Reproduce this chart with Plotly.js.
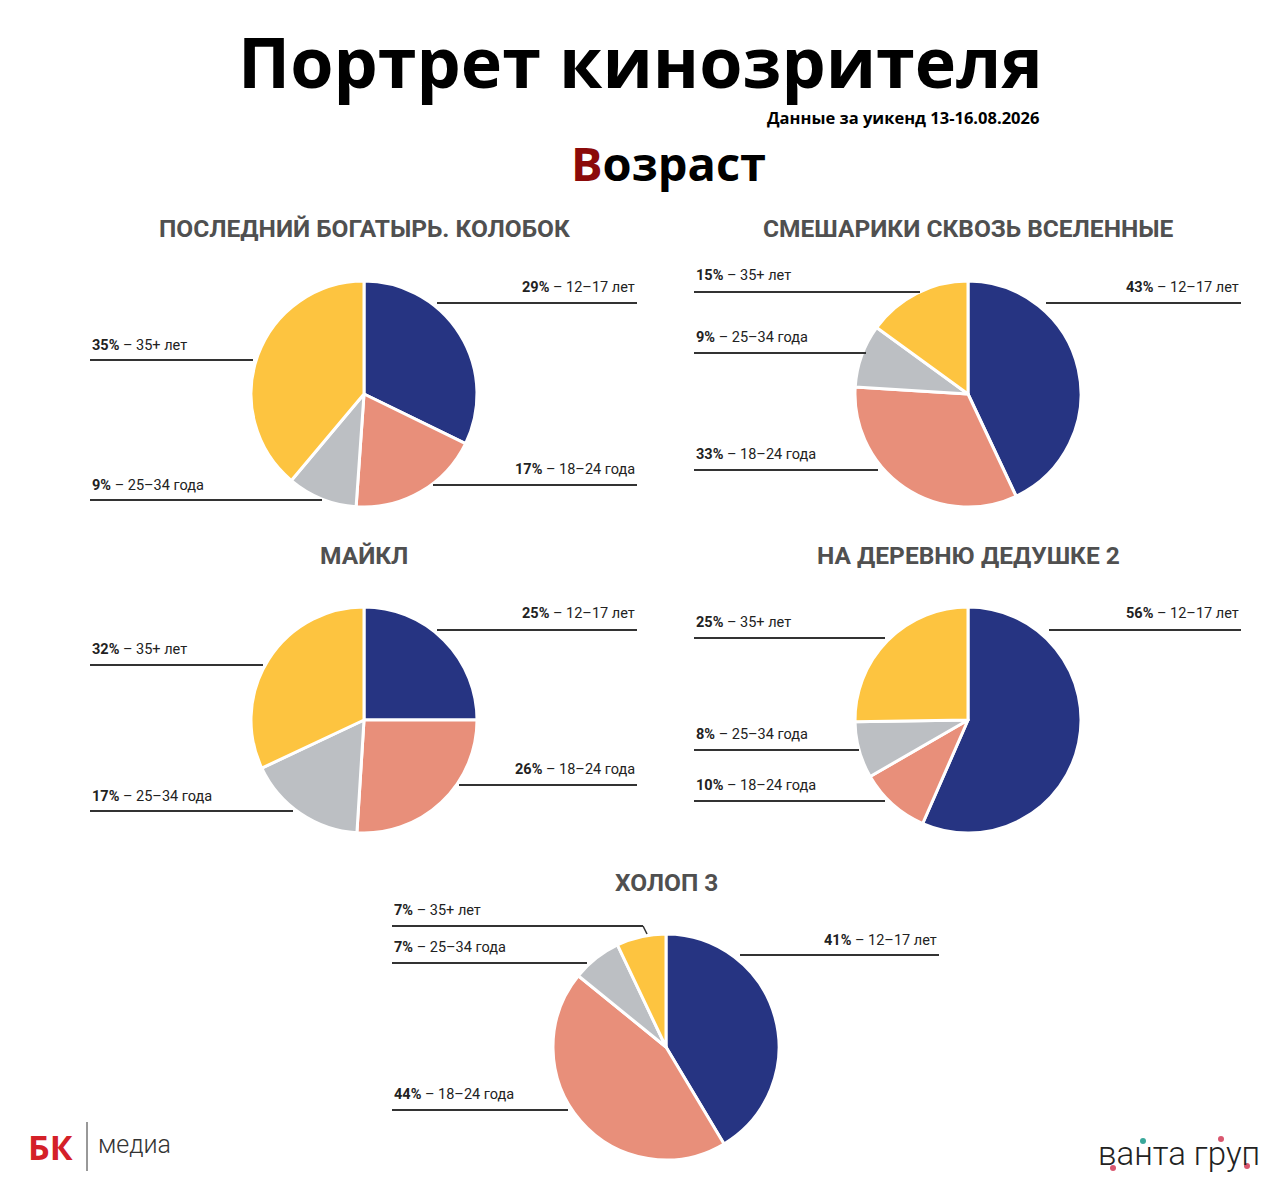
<!DOCTYPE html>
<html><head><meta charset="utf-8">
<script src="https://cdn.plot.ly/plotly-3.0.1.min.js"></script>
<style>html,body{margin:0;padding:0;background:#fff}#chart{width:1280px;height:1187px}</style>
</head><body><div id="chart"></div>
<script>
// ---- DATA ----
const films = ["ПОСЛЕДНИЙ БОГАТЫРЬ. КОЛОБОК", "СМЕШАРИКИ СКВОЗЬ ВСЕЛЕННЫЕ", "МАЙКЛ", "НА ДЕРЕВНЮ ДЕДУШКЕ 2", "ХОЛОП 3"];
const ageGroups = ["12–17 лет", "18–24 года", "25–34 года", "35+ лет"];
const kolobok   = [29, 17, 9, 35];
const smeshariki = [43, 33, 9, 15];
const michael   = [25, 26, 17, 32];
const derevnya  = [56, 10, 8, 25];
const holop     = [41, 44, 7, 7];
const seriesValues = [kolobok, smeshariki, michael, derevnya, holop];
const sliceColors = ["#263482", "#E88F7A", "#BCBFC3", "#FDC440"];

// ---- LAYOUT SPEC (pixel positions, separate from data) ----
const W = 1280, H = 1187;
const R = 113;
const pieCenters = [[364, 394], [968, 394], [364, 720], [968, 720], [666, 1047]];
const titleY = [228, 228, 555, 555, 882];
// per pie, per slice: [side, textX, textY, lineX0, lineX1, lineY]
const labelSpec = [
  [["r",637,288,437,637,303],["r",637,469,433,637,485],["l",90,485,90,322,500],["l",90,345,90,253,360]],
  [["r",1241,288,1046,1241,303],["l",694,454,694,878,470],["l",694,337,694,866,353],["l",694,276,694,920,292]],
  [["r",637,614,437,637,630],["r",637,769,459,637,785],["l",90,796,90,293,811],["l",90,649,90,263,665]],
  [["r",1241,614,1049,1241,630],["l",694,785,694,885,801],["l",694,734,694,859,750],["l",694,622,694,885,638]],
  [["r",939,940,740,939,955],["l",392,1094,392,568,1110],["l",392,947,392,587,963],["l",392,910,392,643,926]]
];

const px = x => x / W;
const py = y => 1 - y / H;

const traces = seriesValues.map((vals, i) => {
  const [cx, cy] = pieCenters[i];
  return {
    type: "pie",
    values: vals,
    labels: ageGroups,
    sort: false,
    direction: "clockwise",
    rotation: 0,
    textinfo: "none",
    hoverinfo: "label+percent",
    showlegend: false,
    marker: {colors: sliceColors, line: {color: "#ffffff", width: 3}},
    domain: {x: [px(cx - R), px(cx + R)], y: [py(cy + R), py(cy - R)]}
  };
});

const annotations = [];
const shapes = [];

annotations.push({xref:"paper", yref:"paper", x:px(640), y:py(61), xanchor:"center", yanchor:"middle",
  text:"Портрет кинозрителя", showarrow:false, font:{family:"Open Sans", size:70, color:"#000", weight:700}});
annotations.push({xref:"paper", yref:"paper", x:px(1041), y:py(117), xanchor:"right", yanchor:"middle",
  text:"Данные за уикенд 13-16.08.2026", showarrow:false, font:{family:"Open Sans", size:16.5, color:"#000", weight:700}});
annotations.push({xref:"paper", yref:"paper", x:px(668), y:py(163), xanchor:"center", yanchor:"middle",
  text:'<span style="color:#8B0A0A">В</span>озраст', showarrow:false, font:{family:"Open Sans", size:47, color:"#000", weight:700}});

films.forEach((f, i) => {
  annotations.push({xref:"paper", yref:"paper", x:px(pieCenters[i][0]), y:py(titleY[i]), xanchor:"center", yanchor:"middle",
    text:"<b>" + f + "</b>", showarrow:false, font:{family:"Roboto", size:24.5, color:"#505050"}});
  seriesValues[i].forEach((v, j) => {
    const s = labelSpec[i][j];
    annotations.push({xref:"paper", yref:"paper", x:px(s[1]), y:py(s[2]), xanchor: s[0] === "r" ? "right" : "left", yanchor:"middle",
      text:"<b>" + v + "%</b> – " + ageGroups[j], showarrow:false, font:{family:"Roboto", size:14.5, color:"#222"}});
    shapes.push({type:"line", xref:"paper", yref:"paper", x0:px(s[3]), x1:px(s[4]), y0:py(s[5]), y1:py(s[5]),
      line:{color:"#333", width:2}});
  });
});
// small bend on Холоп 3 "35+" leader
shapes.push({type:"line", xref:"paper", yref:"paper", x0:px(643), x1:px(647), y0:py(926), y1:py(934), line:{color:"#333", width:1.5}});

// logos
annotations.push({xref:"paper", yref:"paper", x:px(26), y:py(1147), xanchor:"left", yanchor:"middle",
  text:"БК", showarrow:false, font:{family:"Open Sans", size:34, color:"#D42028", weight:700}});
shapes.push({type:"line", xref:"paper", yref:"paper", x0:px(87), x1:px(87), y0:py(1122), y1:py(1171), line:{color:"#333", width:1}});
annotations.push({xref:"paper", yref:"paper", x:px(96), y:py(1144), xanchor:"left", yanchor:"middle",
  text:"медиа", showarrow:false, font:{family:"Roboto", size:25, color:"#333", weight:300}});
annotations.push({xref:"paper", yref:"paper", x:px(1096), y:py(1153), xanchor:"left", yanchor:"middle",
  text:"ванта груп", showarrow:false, font:{family:"Roboto", size:33, color:"#222", weight:300}});
const dots = [[1143,1141,"#3AA89A"],[1113,1168,"#D9576F"],[1221,1139,"#D9576F"],[1247,1166,"#D9576F"]];
dots.forEach(d => shapes.push({type:"circle", xref:"paper", yref:"paper", x0:px(d[0]-3), x1:px(d[0]+3), y0:py(d[1]+3), y1:py(d[1]-3),
  fillcolor:d[2], line:{width:0}}));

Plotly.newPlot("chart", traces, {
  width: W, height: H, margin:{l:0,r:0,t:0,b:0}, paper_bgcolor:"#fff", plot_bgcolor:"#fff",
  annotations, shapes
}, {displayModeBar:false, staticPlot:true});
</script></body></html>
